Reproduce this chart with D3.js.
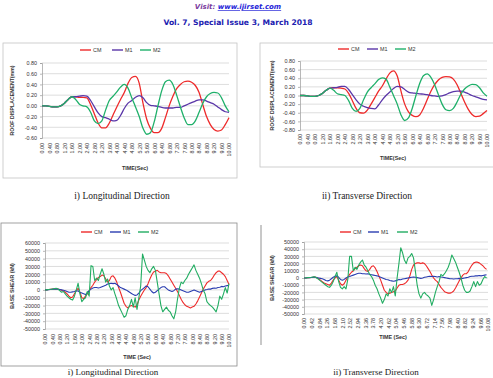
<!DOCTYPE html>
<html>
<head>
<meta charset="utf-8">
<script src="https://cdn.jsdelivr.net/npm/d3@7"></script>
<style>
  body { margin: 0; background: #fff; }
  svg { display: block; }
</style>
</head>
<body>
<div id="page"></div>
<script>
// time categories
const dispTime = d3.range(0, 51).map(i => +(i * 0.2).toFixed(1));
const shearTime = d3.range(0, 101).map(i => +(i * 0.1).toFixed(1));

// roof displacement, longitudinal (mm)
const dispLongCM = [0, 0, -0.01, -0.02, -0.02, 0.0, 0.05, 0.12, 0.17, 0.17, 0.16, 0.16, 0.15, 0.02, -0.15, -0.32, -0.41, -0.41, -0.32, -0.17, -0.02, 0.12, 0.25, 0.42, 0.53, 0.55, 0.42, 0.05, -0.25, -0.42, -0.5, -0.5, -0.42, -0.22, 0.0, 0.18, 0.32, 0.4, 0.45, 0.46, 0.44, 0.38, 0.25, 0.02, -0.2, -0.35, -0.44, -0.47, -0.45, -0.35, -0.22];
const dispLongM1 = [0, 0, -0.01, -0.02, -0.02, 0.0, 0.05, 0.12, 0.17, 0.17, 0.18, 0.19, 0.18, 0.1, -0.02, -0.13, -0.2, -0.22, -0.25, -0.28, -0.27, -0.18, -0.05, 0.05, 0.1, 0.16, 0.19, 0.15, 0.06, 0.01, 0.0, -0.01, -0.03, -0.04, -0.04, -0.04, -0.03, -0.03, 0.0, 0.03, 0.06, 0.09, 0.11, 0.11, 0.09, 0.06, 0.03, -0.02, -0.07, -0.11, -0.12];
const dispLongM2 = [0, 0, -0.01, -0.02, -0.02, 0.0, 0.05, 0.12, 0.17, 0.12, 0.03, 0.0, -0.02, -0.12, -0.28, -0.33, -0.28, -0.08, 0.1, 0.18, 0.26, 0.35, 0.4, 0.33, 0.15, -0.02, -0.2, -0.42, -0.53, -0.5, -0.3, 0.0, 0.28, 0.45, 0.48, 0.4, 0.2, -0.02, -0.22, -0.35, -0.35, -0.28, -0.12, 0.05, 0.17, 0.23, 0.25, 0.24, 0.15, 0.0, -0.11];

// roof displacement, transverse (mm)
const dispTransCM = [0, 0, -0.01, -0.02, -0.02, 0.0, 0.05, 0.12, 0.17, 0.18, 0.18, 0.17, 0.15, 0.05, -0.12, -0.3, -0.4, -0.41, -0.34, -0.2, -0.05, 0.1, 0.22, 0.38, 0.52, 0.57, 0.45, 0.1, -0.2, -0.38, -0.46, -0.49, -0.45, -0.3, -0.1, 0.1, 0.25, 0.36, 0.42, 0.44, 0.43, 0.38, 0.25, 0.05, -0.15, -0.32, -0.44, -0.49, -0.48, -0.42, -0.35];
const dispTransM1 = [0, 0, -0.01, -0.02, -0.02, 0.0, 0.05, 0.12, 0.17, 0.18, 0.19, 0.21, 0.21, 0.14, 0.02, -0.1, -0.2, -0.25, -0.28, -0.3, -0.31, -0.22, -0.1, 0.0, 0.08, 0.16, 0.21, 0.2, 0.14, 0.08, 0.06, 0.05, 0.04, 0.03, 0.02, 0.0, -0.01, -0.02, -0.01, 0.02, 0.06, 0.09, 0.1, 0.1, 0.08, 0.04, 0.0, -0.03, -0.06, -0.09, -0.1];
const dispTransM2 = [0, 0, -0.01, -0.02, -0.02, 0.0, 0.05, 0.12, 0.17, 0.12, 0.04, 0.02, 0.0, -0.12, -0.3, -0.37, -0.3, -0.1, 0.08, 0.18, 0.27, 0.37, 0.41, 0.38, 0.2, 0.0, -0.2, -0.45, -0.58, -0.52, -0.3, 0.0, 0.28, 0.46, 0.5, 0.42, 0.25, 0.02, -0.2, -0.33, -0.35, -0.3, -0.15, 0.03, 0.15, 0.22, 0.26, 0.25, 0.18, 0.06, -0.02];

// base shear, longitudinal (kN)
const shearLongCM = [0, 0, 500, 800, 1000, 1200, 1500, 1000, 500, -500, -1500, -3000, -5000, -8000, -10000, -9000, -5000, -1000, 2000, -3000, -10000, -11000, -8000, -5000, -1000, 3000, 6000, 10000, 13000, 16000, 17000, 19000, 18000, 14000, 10000, 12000, 17000, 18000, 15000, 10000, 3000, -3000, -10000, -17000, -21000, -23000, -21000, -20000, -21000, -22000, -19000, -13000, -8000, -4000, 0, 3000, 8000, 14000, 19000, 23000, 24000, 25000, 23000, 22000, 22000, 22000, 21000, 18000, 14000, 10000, 6000, 2000, -2000, -7000, -12000, -16000, -19000, -21000, -22000, -23000, -22000, -21000, -18000, -14000, -9000, -4000, 1000, 5000, 9000, 11000, 12000, 15000, 19000, 22000, 24000, 24000, 22000, 20000, 17000, 12000, 7000];
const shearLongM1 = [0, 0, 300, 500, 800, 1000, 1200, 1000, 500, 0, -500, -1000, -2000, -3000, -3000, -2500, -2000, -1000, -1500, -3000, -4000, -5000, -6000, -4000, -1000, 1000, 2500, 3000, 3000, 2500, 3000, 4000, 5000, 6000, 7500, 8000, 8500, 8000, 8500, 7000, 5000, 3000, 2000, 1000, 0, -1500, -3000, -4500, -6000, -7000, -6500, -4000, -1000, 1000, 3000, 5000, 4000, 1000, -2000, -4000, -3000, -1000, 1000, 3000, 4000, 4000, 2000, 0, -1000, -2000, -1000, 1000, 1500, 1000, 0, -1000, -2000, -3000, -3000, -2000, -1000, 0, -1000, -2000, -3000, -2000, -1000, 0, 500, 1200, 1000, 2000, 2500, 2200, 3000, 3500, 4500, 4000, 5000, 5500, 6000];
const shearLongM2 = [0, 0, 500, 800, 1000, 1500, 2000, 1000, -1000, -3000, -2000, -5000, -8000, -10000, -12000, -13000, -8000, 0, 8500, -5000, -15000, -12000, -10000, -2000, -8000, 31000, 30000, 12000, 15000, 12000, 20000, 27000, 20000, 10000, 14000, 5000, 0, 3000, -5000, -12000, -20000, -25000, -30000, -35000, -33000, -25000, -20000, -12000, -22000, -10000, -25000, -10000, 5000, 46000, 38000, 30000, 25000, 22000, 27000, 30000, 25000, 10000, -5000, -20000, -28000, -25000, -22000, -26000, -28000, -33000, -37000, -28000, -12000, 2000, 10000, 8000, 12000, 15000, 20000, 24000, 28000, 32000, 25000, 20000, 15000, 8000, 0, -5000, -15000, -18000, -20000, -22000, -25000, -28000, -20000, -8000, -12000, -5000, 3000, -4000, 8000];

// base shear, transverse (kN)
const shearTransCM = [0, 0, 300, 500, 800, 1000, 1200, 500, -1000, -3000, -5000, -7000, -8000, -9000, -10000, -7000, -3000, 0, 2000, -3000, -8000, -10000, -8000, -3000, 1000, 5000, 8000, 10000, 13000, 15000, 17000, 18000, 17000, 13000, 10000, 9000, 12000, 16000, 17000, 14000, 9000, 3000, -3000, -10000, -17000, -20000, -22000, -21000, -20000, -19000, -18000, -14000, -10000, -9000, -9000, -8000, -6000, -3000, 3000, 12000, 18000, 20000, 21000, 21000, 20000, 21000, 20000, 17000, 13000, 9000, 4000, 0, -3000, -5000, -9000, -13000, -16000, -19000, -20000, -21000, -21000, -20000, -18000, -14000, -9000, -4000, 0, 4000, 6000, 6000, 9000, 14000, 18000, 21000, 22000, 22000, 21000, 19000, 17000, 14000, 12000];
const shearTransM1 = [0, 0, 300, 500, 800, 1000, 1000, 500, 0, -500, -1000, -2000, -3500, -4000, -3000, -1000, 1000, 2500, 3000, 1000, -2000, -3000, -2000, 0, 1500, 2000, 3000, 4000, 5000, 6000, 6500, 6500, 6000, 6000, 5500, 6000, 5000, 4500, 4000, 3500, 3000, 2000, 1000, 0, -1000, -2000, -2500, -3500, -4000, -4500, -4000, -3000, -2000, -2500, -1500, -1000, -500, 0, 500, 1000, 1500, 1000, 500, 0, -500, 0, 1000, 1500, 2000, 2500, 2000, 2500, 2000, 1500, 2000, 1500, 1000, 500, 0, -500, -1000, -1000, -1500, -1000, -1000, -500, -1000, -500, 0, 500, 1000, 2000, 2500, 2500, 3000, 3000, 3500, 3000, 3500, 4000, 4500];
const shearTransM2 = [0, 0, 500, 800, 1000, 1500, 1500, 0, -2000, -4000, -6000, -8000, -10000, -12000, -13000, -10000, -5000, 2000, 8000, -5000, -13000, -15000, -12000, -15000, -2000, 30000, 30000, 10000, 15000, 12000, 18000, 22000, 25000, 18000, 15000, 10000, 5000, 2000, -3000, -10000, -15000, -22000, -28000, -35000, -30000, -22000, -25000, -15000, -20000, -12000, -25000, 0, 20000, 42000, 35000, 25000, 20000, 28000, 30000, 34000, 28000, 10000, -10000, -22000, -28000, -22000, -20000, -23000, -25000, -28000, -38000, -30000, -20000, -12000, -5000, 5000, 3000, 6000, 10000, 15000, 22000, 32000, 27000, 22000, 15000, 8000, 0, -10000, -17000, -20000, -20000, -18000, -12000, -5000, -12000, -5000, -10000, -8000, -2000, 2000, 0];

// tick values
const dispLongYTicks = [0.8, 0.6, 0.4, 0.2, 0, -0.2, -0.4, -0.6];
const dispTransYTicks = [0.8, 0.6, 0.4, 0.2, 0, -0.2, -0.4, -0.6, -0.8];
const shearLongYTicks = [60000, 50000, 40000, 30000, 20000, 10000, 0, -10000, -20000, -30000, -40000, -50000];
const shearTransYTicks = [50000, 40000, 30000, 20000, 10000, 0, -10000, -20000, -30000, -40000, -50000];
const xTicks40 = d3.range(0, 26).map(i => +(i * 0.4).toFixed(2));
const xTicks42 = d3.range(0, 25).map(i => +(i * 0.42).toFixed(2));

const seriesNames = ["CM", "M1", "M2"];
const dispColors = ["#ee2a2a", "#5a36a8", "#1fb06a"];
const shearColors = ["#ee2a2a", "#2a3db0", "#22ad62"];

const W = 493, H = 378;
const svg = d3.select("#page").append("svg")
  .attr("width", W).attr("height", H)
  .style("font-family", "'Liberation Sans', Arial, sans-serif");

// page header
svg.append("text")
  .attr("x", 238).attr("y", 9)
  .attr("text-anchor", "middle")
  .style("font-family", "'DejaVu Sans', Verdana, sans-serif")
  .style("font-size", "7px").style("font-weight", "bold").style("font-style", "italic")
  .call(t => {
    t.append("tspan").attr("fill", "#7a3c9e").text("Visit: ");
    t.append("tspan").attr("fill", "#2424d8").style("text-decoration", "underline").text("www.ijirset.com");
  });
svg.append("text")
  .attr("x", 238).attr("y", 25)
  .attr("text-anchor", "middle")
  .attr("fill", "#2020b0")
  .style("font-family", "'DejaVu Sans', Verdana, sans-serif")
  .style("font-size", "7.6px").style("font-weight", "bold")
  .text("Vol. 7, Special Issue 3, March 2018");

function drawChart(c) {
  const g = svg.append("g");

  if (c.frame) {
    g.append("rect")
      .attr("x", c.frame[0]).attr("y", c.frame[1])
      .attr("width", c.frame[2]).attr("height", c.frame[3])
      .attr("fill", "none").attr("stroke", c.frameColor).attr("stroke-width", 0.8);
  }
  if (c.sideLine) {
    g.append("line")
      .attr("x1", c.sideLine[0]).attr("x2", c.sideLine[0])
      .attr("y1", c.sideLine[1]).attr("y2", c.sideLine[2])
      .attr("stroke", "#777").attr("stroke-width", 0.8);
  }

  const x = d3.scaleLinear().domain(c.xDomain).range([c.x0, c.x1]);
  const y = d3.scaleLinear()
    .domain([c.yTicks[c.yTicks.length - 1], c.yTicks[0]])
    .range([c.yBot, c.yTop]);

  // gridlines
  g.selectAll(".grid").data(c.yTicks).join("line")
    .attr("x1", c.x0).attr("x2", c.x1)
    .attr("y1", d => y(d)).attr("y2", d => y(d))
    .attr("stroke", "#cfcfcf").attr("stroke-width", 0.7);

  // y axis
  const ya = g.append("g")
    .attr("transform", `translate(${c.x0},0)`)
    .call(d3.axisLeft(y).tickValues(c.yTicks).tickFormat(c.yFmt).tickSize(2).tickPadding(3));
  ya.select(".domain").attr("stroke", "#999").attr("stroke-width", 0.7);
  ya.selectAll(".tick line").attr("stroke", "#999").attr("stroke-width", 0.7);
  ya.selectAll("text").attr("fill", "#333").style("font-size", "5.4px")
    .style("font-family", "'Liberation Sans', Arial, sans-serif");

  // x axis labels (rotated)
  const xa = g.append("g")
    .attr("transform", `translate(0,${c.xLabelTop})`)
    .call(d3.axisBottom(x).tickValues(c.xTicks).tickFormat(c.xFmt).tickSize(0).tickPadding(0));
  xa.select(".domain").remove();
  xa.selectAll("text")
    .attr("transform", "rotate(-90)")
    .attr("text-anchor", "end")
    .attr("x", 0).attr("y", 0).attr("dy", "0.35em")
    .attr("fill", "#333").style("font-size", "5.4px")
    .style("font-family", "'Liberation Sans', Arial, sans-serif");

  // series
  const line = d3.line()
    .x((v, i) => x(c.time[i]))
    .y(v => y(v))
    .curve(c.curve);
  c.series.forEach((vals, k) => {
    g.append("path").datum(vals)
      .attr("d", line)
      .attr("fill", "none")
      .attr("stroke", c.colors[k])
      .attr("stroke-width", c.lineWidth)
      .attr("stroke-linejoin", "round");
  });

  // legend
  seriesNames.forEach((name, k) => {
    const lx = c.legendX[k];
    g.append("line")
      .attr("x1", lx).attr("x2", lx + 11)
      .attr("y1", c.legendY).attr("y2", c.legendY)
      .attr("stroke", c.colors[k]).attr("stroke-width", 1.4);
    g.append("text")
      .attr("x", lx + 13).attr("y", c.legendY).attr("dy", "0.35em")
      .attr("fill", "#333").style("font-size", "5.4px")
      .text(name);
  });

  // axis titles
  g.append("text")
    .attr("transform", `translate(${c.yTitleX},${(c.yTop + c.yBot) / 2}) rotate(-90)`)
    .attr("text-anchor", "middle").attr("dy", "0.35em")
    .attr("fill", "#333").style("font-size", "5.2px").style("font-weight", "bold")
    .text(c.yTitle);
  g.append("text")
    .attr("x", c.xTitlePos[0]).attr("y", c.xTitlePos[1])
    .attr("text-anchor", "middle").attr("dy", "0.35em")
    .attr("fill", "#333").style("font-size", "5.4px").style("font-weight", "bold")
    .text(c.xTitle);
}

const fmt2 = d => d.toFixed(2);
const fmtInt = d => String(d);

drawChart({
  frame: [3, 43, 234, 135], frameColor: "#c4c4c4",
  x0: 42, x1: 229, yTop: 63, yBot: 138,
  xDomain: [0, 10], yTicks: dispLongYTicks, yFmt: fmt2,
  xTicks: xTicks40, xFmt: fmt2, xLabelTop: 143,
  time: dispTime, series: [dispLongCM, dispLongM1, dispLongM2],
  colors: dispColors, lineWidth: 1.3, curve: d3.curveMonotoneX,
  legendX: [80, 112, 140], legendY: 50,
  yTitle: "ROOF DISPLACEMENT(mm)", yTitleX: 12,
  xTitle: "TIME(Sec)", xTitlePos: [135, 168]
});

drawChart({
  frame: [260, 43, 234, 124], frameColor: "#c4c4c4",
  x0: 300, x1: 487, yTop: 61, yBot: 130,
  xDomain: [0, 10], yTicks: dispTransYTicks, yFmt: fmt2,
  xTicks: xTicks40, xFmt: fmt2, xLabelTop: 134,
  time: dispTime, series: [dispTransCM, dispTransM1, dispTransM2],
  colors: dispColors, lineWidth: 1.3, curve: d3.curveMonotoneX,
  legendX: [338, 367, 395], legendY: 49,
  yTitle: "ROOF DISPLACEMENT(mm)", yTitleX: 272,
  xTitle: "TIME(Sec)", xTitlePos: [393, 158]
});

drawChart({
  frame: [1, 223, 236, 143], frameColor: "#8a8a8a",
  x0: 45, x1: 229, yTop: 243, yBot: 329,
  xDomain: [0, 10], yTicks: shearLongYTicks, yFmt: fmtInt,
  xTicks: xTicks40, xFmt: fmt2, xLabelTop: 334,
  time: shearTime, series: [shearLongCM, shearLongM1, shearLongM2],
  colors: shearColors, lineWidth: 1.1, curve: d3.curveLinear,
  legendX: [81, 110, 138], legendY: 232,
  yTitle: "BASE SHEAR (kN)", yTitleX: 12,
  xTitle: "TIME (Sec)", xTitlePos: [137, 357]
});

drawChart({
  sideLine: [261, 225, 345],
  x0: 304, x1: 488, yTop: 242, yBot: 314,
  xDomain: [0, 10.08], yTicks: shearTransYTicks, yFmt: fmtInt,
  xTicks: xTicks42, xFmt: fmt2, xLabelTop: 318,
  time: shearTime, series: [shearTransCM, shearTransM1, shearTransM2],
  colors: shearColors, lineWidth: 1.1, curve: d3.curveLinear,
  legendX: [340, 368, 397], legendY: 232,
  yTitle: "BASE SHEAR (kN)", yTitleX: 272,
  xTitle: "TIME (Sec)", xTitlePos: [393, 337]
});

// figure captions
const captions = [
  ["i) Longitudinal Direction", 122, 199, 9.5],
  ["ii) Transverse Direction", 367, 199, 9.5],
  ["i) Longitudinal Direction", 113, 375, 9],
  ["ii) Transverse Direction", 376, 375, 9]
];
svg.selectAll(".caption").data(captions).join("text")
  .attr("x", d => d[1]).attr("y", d => d[2])
  .attr("text-anchor", "middle")
  .attr("fill", "#222")
  .style("font-family", "'Liberation Serif', 'Times New Roman', serif")
  .style("font-size", d => d[3] + "px")
  .text(d => d[0]);
</script>
</body>
</html>
